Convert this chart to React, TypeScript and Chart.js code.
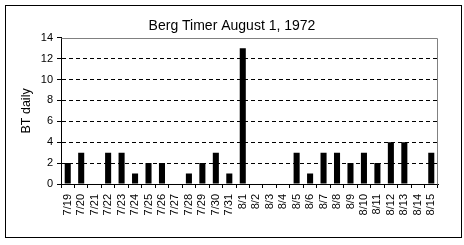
import React, { useEffect, useRef } from "react";
import { Chart, registerables } from "chart.js";

Chart.register(...registerables);

const categories = [
  "7/19", "7/20", "7/21", "7/22", "7/23", "7/24", "7/25", "7/26", "7/27", "7/28",
  "7/29", "7/30", "7/31", "8/1", "8/2", "8/3", "8/4", "8/5", "8/6", "8/7",
  "8/8", "8/9", "8/10", "8/11", "8/12", "8/13", "8/14", "8/15",
];
const btDaily = [
  2, 3, 0, 3, 3, 1, 2, 2, 0, 1,
  2, 3, 1, 13, 0, 0, 0, 3, 1, 3,
  3, 2, 3, 2, 4, 4, 0, 3,
];
const titleText = "Berg Timer August 1, 1972";
const yAxisTitle = "BT daily";
const yMin = 0;
const yMax = 14;
const yStep = 2;

const FONT = "'Liberation Sans', Arial, sans-serif";

const framePlugin = {
  id: "frame",
  beforeDatasetsDraw(chart: any) {
    const { ctx, chartArea } = chart;
    const l = Math.round(chartArea.left) + 0.5;
    const r = Math.round(chartArea.right) - 0.5;
    const t = Math.round(chartArea.top) + 0.5;
    const b = Math.round(chartArea.bottom) + 0.5;
    ctx.save();
    ctx.strokeStyle = "#808080";
    ctx.lineWidth = 1;
    ctx.beginPath();
    ctx.moveTo(l, t);
    ctx.lineTo(r, t);
    ctx.lineTo(r, b);
    ctx.stroke();
    ctx.restore();
  },
  afterDraw(chart: any) {
    const { ctx } = chart;
    ctx.save();
    ctx.strokeStyle = "#000";
    ctx.lineWidth = 1;
    ctx.strokeRect(5.5, 5.5, 456, 232);
    ctx.restore();
  },
};

export default function App() {
  const canvasRef = useRef<HTMLCanvasElement | null>(null);

  useEffect(() => {
    const canvas = canvasRef.current;
    if (!canvas) return;
    Chart.defaults.color = "#000";
    const chart = new Chart(canvas, {
      type: "bar",
      data: {
        labels: categories,
        datasets: [
          {
            label: yAxisTitle,
            data: btDaily,
            backgroundColor: "#000",
            borderWidth: 0,
            barPercentage: 0.45,
            categoryPercentage: 1,
            yAxisID: "y",
          },
        ],
      },
      options: {
        responsive: false,
        animation: false,
        events: [],
        layout: { padding: { left: 0, right: 0, top: 0, bottom: 0 } },
        plugins: {
          legend: { display: false },
          tooltip: { enabled: false },
          title: {
            display: true,
            text: titleText,
            color: "#000",
            font: { family: FONT, size: 14, weight: "normal" },
            padding: { top: 18, bottom: 3 },
          },
        },
        scales: {
          x: {
            offset: true,
            grid: {
              offset: true,
              drawOnChartArea: false,
              drawTicks: true,
              tickLength: 4,
              color: "#000",
              tickColor: "#000",
            },
            border: { display: true, color: "#000", width: 1 },
            ticks: {
              autoSkip: false,
              minRotation: 90,
              maxRotation: 90,
              padding: 6,
              color: "#000",
              font: { family: FONT, size: 11 },
            },
            afterFit(scale: any) {
              scale.height = 61;
            },
          },
          y: {
            position: "left",
            min: yMin,
            max: yMax,
            grid: {
              drawTicks: true,
              tickLength: 4,
              color: (ctx: any) =>
                ctx.tick && (ctx.tick.value === yMin || ctx.tick.value === yMax)
                  ? "rgba(0,0,0,0)"
                  : "#000",
              tickColor: "#000",
            },
            border: { display: true, color: "#000", width: 1, dash: [4, 3] },
            ticks: {
              stepSize: yStep,
              padding: 4,
              color: "#000",
              font: { family: FONT, size: 11 },
            },
            title: {
              display: true,
              text: yAxisTitle,
              color: "#000",
              font: { family: FONT, size: 12.5 },
              padding: { top: 19, bottom: 0 },
            },
            afterFit(scale: any) {
              scale.width = 61;
            },
          },
          ySpacer: {
            position: "right",
            display: true,
            min: yMin,
            max: yMax,
            grid: { display: false, drawOnChartArea: false, drawTicks: false },
            border: { display: false },
            ticks: { display: false },
            afterFit(scale: any) {
              scale.width = 26;
            },
          },
        },
      },
      plugins: [framePlugin],
    } as any);
    return () => chart.destroy();
  }, []);

  return (
    <div style={{ position: "absolute", left: 0, top: 0, width: 464, height: 245, background: "#fff" }}>
      <canvas ref={canvasRef} width={464} height={245} style={{ display: "block" }} />
    </div>
  );
}
